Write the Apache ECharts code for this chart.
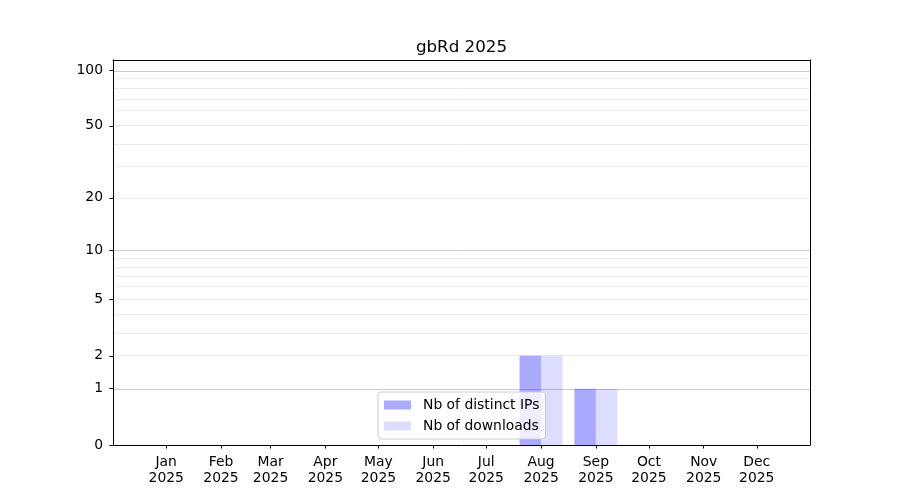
<!DOCTYPE html>
<html>
<head>
<meta charset="utf-8">
<script src="https://cdn.jsdelivr.net/npm/echarts@6/dist/echarts.min.js"></script>
<style>
  html, body { margin: 0; padding: 0; background: #fff; }
  #main { width: 900px; height: 500px; }
</style>
</head>
<body>
<div id="main"></div>
<script>
var months = ['Jan', 'Feb', 'Mar', 'Apr', 'May', 'Jun', 'Jul', 'Aug', 'Sep', 'Oct', 'Nov', 'Dec'];
var year = 2025;
var distinctIps = [0, 0, 0, 0, 0, 0, 0, 2, 1, 0, 0, 0];
var downloads = [0, 0, 0, 0, 0, 0, 0, 2, 1, 0, 0, 0];
var yTicks = [0, 1, 2, 5, 10, 20, 50, 100];
var gridMajor = [1, 10, 100];
var gridMinor = [2, 3, 4, 5, 6, 7, 8, 9, 20, 30, 40, 50, 60, 70, 80, 90];

// y scale is log10(v + 1)
function f(v) { return Math.log10(v + 1); }

var DAY = 86400000;
var monthStarts = months.map(function (m, i) { return Date.UTC(year, i, 1); });
var font = 'DejaVu Sans';
var xMin = Date.UTC(2024, 11, 1) + 0.9 * DAY;
var xMax = Date.UTC(2025, 11, 31) + 0.1 * DAY;
var yMax = 2.0594;

var chartDom = document.getElementById('main');
var myChart = echarts.init(chartDom, null, { width: 900, height: 500 });

var gridLines = gridMinor.map(function (v) {
    return { yAxis: f(v), lineStyle: { color: '#ebebeb', width: 1, type: 'solid' } };
}).concat(gridMajor.map(function (v) {
    return { yAxis: f(v), lineStyle: { color: '#cccccc', width: 1, type: 'solid' } };
}));

var frameAxis = {
    type: 'value',
    axisLine: { show: true, onZero: false, lineStyle: { color: '#000', width: 1 } },
    axisTick: { show: false },
    axisLabel: { show: false },
    splitLine: { show: false }
};

var option = {
    animation: false,
    title: {
        text: 'gbRd ' + year,
        left: 461.5,
        top: 39,
        textAlign: 'center',
        padding: 0,
        textStyle: { fontFamily: font, fontSize: 16.7, fontWeight: 'normal', color: '#000' }
    },
    grid: { left: 113, right: 90, top: 60, bottom: 55 },
    legend: {
        orient: 'vertical',
        left: 378,
        top: 392,
        padding: [6, 6, 6, 6],
        itemWidth: 27,
        itemHeight: 9,
        itemGap: 7,
        icon: 'rect',
        backgroundColor: 'rgba(255,255,255,0.8)',
        borderColor: '#cccccc',
        borderWidth: 1,
        borderRadius: 3,
        textStyle: { fontFamily: font, fontSize: 13.9, color: '#000', padding: [0, 0, 0, 7] },
        data: ['Nb of distinct IPs', 'Nb of downloads']
    },
    xAxis: [{
        type: 'value',
        min: xMin,
        max: xMax,
        splitLine: { show: false },
        axisLine: { show: true, onZero: false, lineStyle: { color: '#000', width: 1 } },
        axisTick: { show: true, length: 3.5, customValues: monthStarts, lineStyle: { color: '#000' } },
        axisLabel: {
            customValues: monthStarts,
            margin: 9,
            fontFamily: font,
            fontSize: 13.9,
            lineHeight: 16,
            color: '#000',
            formatter: function (value) {
                var d = new Date(value);
                return months[d.getUTCMonth()] + '\n' + d.getUTCFullYear();
            }
        }
    }, Object.assign({ position: 'top', min: xMin, max: xMax }, frameAxis)],
    yAxis: [{
        type: 'value',
        min: 0,
        max: yMax,
        splitLine: { show: false },
        axisLine: { show: true, onZero: false, lineStyle: { color: '#000', width: 1 } },
        axisTick: { show: true, length: 3.5, customValues: yTicks.map(f), lineStyle: { color: '#000' } },
        axisLabel: {
            customValues: yTicks.map(f),
            margin: 10,
            fontFamily: font,
            fontSize: 13.9,
            color: '#000',
            formatter: function (value) { return String(Math.round(Math.pow(10, value) - 1)); }
        }
    }, Object.assign({ position: 'right', min: 0, max: yMax }, frameAxis)],
    series: [
        {
            name: 'Nb of distinct IPs',
            type: 'bar',
            barWidth: 21.5,
            barGap: '0%',
            itemStyle: { color: 'rgba(0,0,255,0.333)' },
            data: distinctIps.map(function (v, i) { return [monthStarts[i], f(v)]; }),
            markLine: {
                silent: true,
                z: -1,
                symbol: 'none',
                label: { show: false },
                animation: false,
                data: gridLines
            }
        },
        {
            name: 'Nb of downloads',
            type: 'bar',
            barWidth: 21.5,
            barGap: '0%',
            itemStyle: { color: 'rgba(0,0,255,0.133)' },
            data: downloads.map(function (v, i) { return [monthStarts[i], f(v)]; })
        }
    ]
};

option && myChart.setOption(option);
</script>
</body>
</html>
